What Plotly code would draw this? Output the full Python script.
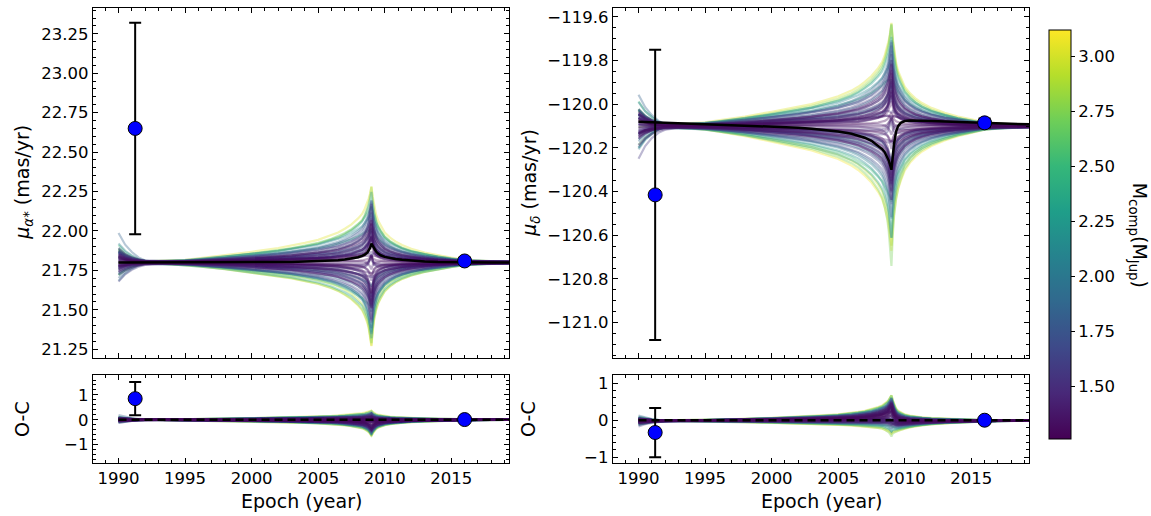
import numpy as np
import plotly.graph_objects as go
from plotly.colors import sample_colorscale

W, H = 1151, 516

# ---------------- data ----------------
epochs = [1990.0, 1990.5, 1991.0, 1991.5, 1992.0, 1993.0, 1994.0, 1995.0, 1996.0, 1998.0,
          2000.0, 2002.0, 2003.0, 2004.0, 2005.0, 2006.0, 2006.5, 2007.0, 2007.5, 2008.0,
          2008.3, 2008.5, 2008.7, 2008.8, 2008.9, 2009.0, 2009.1, 2009.2, 2009.35, 2009.5,
          2009.7, 2010.0, 2010.4, 2010.8, 2011.3, 2012.0, 2013.0, 2014.0, 2015.0, 2016.0,
          2017.0, 2018.0, 2019.35]

best_ra = [21.800, 21.800, 21.800, 21.800, 21.800, 21.800, 21.800, 21.800, 21.800, 21.801,
           21.802, 21.803, 21.804, 21.806, 21.808, 21.812, 21.815, 21.819, 21.825, 21.834,
           21.842, 21.850, 21.864, 21.875, 21.893, 21.920, 21.905, 21.888, 21.870, 21.857,
           21.846, 21.836, 21.828, 21.822, 21.817, 21.812, 21.807, 21.804, 21.802, 21.801,
           21.800, 21.800, 21.800]

best_dec = [-120.080, -120.081, -120.082, -120.083, -120.084, -120.086, -120.088, -120.090, -120.092, -120.096,
            -120.100, -120.107, -120.112, -120.118, -120.125, -120.135, -120.143, -120.153, -120.167, -120.190,
            -120.205, -120.220, -120.242, -120.258, -120.278, -120.300, -120.240, -120.180, -120.125, -120.100,
            -120.085, -120.077, -120.074, -120.074, -120.075, -120.077, -120.079, -120.081, -120.083, -120.085,
            -120.087, -120.089, -120.092]

# deviation profiles of the posterior sample curves
prof_main = [-0.10, -0.07, -0.05, -0.03, -0.02, -0.005, 0.0, 0.01, 0.03, 0.07,
             0.12, 0.17, 0.20, 0.24, 0.28, 0.34, 0.38, 0.43, 0.49, 0.57,
             0.63, 0.70, 0.78, 0.84, 0.91, 1.00, 0.86, 0.74, 0.62, 0.54,
             0.47, 0.38, 0.31, 0.26, 0.21, 0.16, 0.11, 0.07, 0.04, 0.01,
             0.0, -0.01, -0.02]
prof_sharp = [0, 0, 0, 0, 0, 0, 0, 0, 0, 0,
              0, 0, 0, 0, 0, 0, 0, 0.02, 0.04, 0.08,
              0.13, 0.20, 0.35, 0.50, 0.72, 1.00, 0.55, 0.33, 0.20, 0.13,
              0.08, 0.04, 0.02, 0, 0, 0, 0, 0, 0, 0,
              0, 0, 0]
prof_early = [1.0, 0.6, 0.35, 0.18, 0.08, 0.02, 0, 0, 0, 0,
              0, 0, 0, 0, 0, 0, 0, 0, 0, 0,
              0, 0, 0, 0, 0, 0, 0, 0, 0, 0,
              0, 0, 0, 0, 0, 0, 0, 0, 0, 0,
              0, 0, 0]

base_ra = 21.80
base_dec = -120.10

sample_mass = [1.29, 1.31, 1.33, 1.34, 1.36, 1.37, 1.38, 1.39, 1.40, 1.41, 1.42, 1.43,
               1.44, 1.45, 1.46, 1.47, 1.48, 1.50, 1.51, 1.53, 1.54, 1.56, 1.58, 1.60,
               1.62, 1.64, 1.67, 1.70, 1.73, 1.76, 1.80, 1.84, 1.88, 1.93, 1.98, 2.04,
               2.10, 2.17, 2.25, 2.33, 2.42, 2.52, 2.62, 2.72, 2.83, 2.94, 3.03, 3.10,
               1.28, 1.30, 1.32, 1.35, 1.36, 1.38, 1.40, 1.41, 1.43, 1.44, 1.46, 1.48,
               1.49, 1.52, 1.55, 1.57, 1.61, 1.66, 1.72, 1.78, 1.86, 1.95, 2.06, 2.20]

ra_main_amp = [0.06, -0.11, 0.19, -0.04, 0.15, -0.22, 0.09, -0.17, 0.24, -0.08, 0.12, -0.25,
               0.02, -0.14, 0.21, -0.10, 0.17, -0.19, 0.07, -0.23, 0.26, -0.05, 0.13, -0.20,
               0.25, -0.27, 0.17, -0.30, 0.31, -0.19, 0.27, -0.33, 0.34, -0.24, 0.21, -0.35,
               0.36, -0.31, 0.39, -0.41, 0.29, -0.37, 0.43, -0.44, 0.40, -0.38, 0.47, -0.45,
               0.01, -0.03, 0.04, -0.02, 0.07, -0.06, 0.03, -0.09, 0.11, -0.01, 0.05, -0.13,
               0.08, -0.04, 0.10, -0.07, 0.14, -0.12, 0.09, -0.15, 0.12, -0.10, 0.16, -0.18]
ra_sharp_amp = [0.10, -0.08, 0.05, -0.15, 0.12, -0.06, 0.15, -0.10, 0.03, -0.17, 0.08, -0.12,
                0.17, -0.12, 0.16, -0.14, 0.04, -0.09, 0.14, -0.06, 0.02, -0.16, 0.11, -0.07,
                0.06, -0.10, 0.12, -0.05, 0.08, -0.12, 0.10, -0.08, 0.05, -0.06, 0.14, -0.10,
                -0.06, -0.16, 0.05, -0.02, -0.10, 0.10, -0.08, -0.06, 0.07, -0.14, 0.00, -0.07,
                0.03, -0.05, 0.08, 0.06, -0.04, 0.10, -0.07, 0.02, 0.05, -0.10, 0.12, 0.04,
                -0.02, 0.09, -0.06, 0.13, 0.01, -0.03, 0.07, -0.08, 0.04, -0.11, 0.06, 0.03]
ra_early_amp = [0.02, -0.03, 0.05, -0.06, 0.01, 0.04, -0.02, 0.03, -0.05, 0.06, -0.01, 0.02,
                -0.04, 0.03, 0.00, -0.02, 0.05, -0.03, 0.02, -0.06, 0.03, -0.12, 0.01, 0.04,
                0.08, -0.06, 0.10, -0.04, 0.12, 0.05, -0.08, 0.16, -0.03, 0.06, -0.10, 0.09,
                0.06, -0.05, 0.10, 0.03, -0.06, 0.08, -0.04, 0.05, 0.12, -0.03, 0.07, 0.04,
                0.01, -0.02, 0.03, 0.00, -0.04, 0.02, 0.05, -0.03, 0.01, 0.04, -0.05, 0.02,
                -0.01, 0.03, -0.02, 0.06, -0.04, 0.02, 0.07, -0.05, 0.03, 0.08, -0.06, 0.05]
ra_offset = [0.005, -0.004, 0.008, -0.006, 0.002, -0.008, 0.004, 0.000, -0.003, 0.006, -0.005, 0.003,
             0.007, -0.002, 0.001, -0.007, 0.004, -0.004, 0.006, -0.001, 0.002, -0.006, 0.008, -0.003,
             0.010, -0.010, 0.006, -0.008, 0.004, -0.003, 0.009, -0.006, 0.002, -0.009, 0.005, -0.004,
             0.012, -0.010, 0.008, -0.012, 0.010, -0.006, 0.004, -0.011, 0.009, -0.007, 0.012, -0.010,
             0.003, -0.002, 0.001, -0.004, 0.005, 0.000, -0.003, 0.002, 0.004, -0.005, 0.001, -0.001,
             0.006, -0.003, 0.002, -0.006, 0.003, -0.002, 0.005, -0.004, 0.001, -0.007, 0.004, 0.002]

dec_main_amp = [0.08, -0.12, 0.18, -0.06, 0.14, -0.21, 0.10, -0.16, 0.23, -0.09, 0.12, -0.24,
                0.03, -0.15, 0.20, -0.11, 0.16, -0.18, 0.06, -0.22, 0.25, -0.07, 0.13, -0.19,
                0.26, -0.25, 0.18, -0.29, 0.30, -0.20, 0.27, -0.31, 0.33, -0.23, 0.22, -0.34,
                0.34, -0.36, 0.38, -0.42, 0.30, -0.40, 0.40, -0.47, 0.42, -0.44, 0.44, -0.50,
                0.02, -0.04, 0.05, -0.01, 0.08, -0.05, 0.02, -0.10, 0.10, -0.02, 0.06, -0.12,
                0.07, -0.03, 0.11, -0.08, 0.13, -0.11, 0.08, -0.14, 0.13, -0.09, 0.15, -0.17]
dec_sharp_amp = [0.08, -0.06, 0.07, -0.12, 0.10, -0.08, 0.14, -0.09, 0.06, -0.14, 0.09, -0.10,
                 0.16, -0.11, 0.10, -0.12, 0.05, -0.08, 0.12, -0.05, 0.03, -0.13, 0.09, -0.06,
                 0.06, -0.08, 0.10, -0.06, 0.08, -0.10, 0.09, -0.10, 0.06, -0.05, 0.12, -0.08,
                 -0.05, -0.14, 0.02, -0.08, -0.10, 0.06, 0.06, -0.16, 0.04, -0.10, 0.02, -0.06,
                 0.04, -0.03, 0.06, 0.05, -0.05, 0.09, -0.06, 0.03, 0.04, -0.09, 0.10, 0.05,
                 -0.03, 0.08, -0.05, 0.11, 0.02, -0.04, 0.06, -0.07, 0.05, -0.10, 0.05, 0.02]
dec_early_amp = [0.03, -0.04, 0.06, -0.05, 0.02, 0.05, -0.03, 0.02, -0.06, 0.05, -0.02, 0.03,
                 -0.04, 0.04, 0.00, -0.03, 0.05, -0.02, 0.03, -0.08, 0.02, -0.15, 0.01, 0.04,
                 0.07, -0.06, 0.09, -0.05, 0.10, 0.04, -0.08, 0.12, -0.04, 0.06, -0.09, 0.08,
                 0.06, -0.06, 0.10, 0.02, -0.08, 0.08, -0.05, 0.04, 0.11, -0.04, 0.06, 0.03,
                 0.02, -0.03, 0.02, 0.01, -0.05, 0.03, 0.04, -0.02, 0.02, 0.03, -0.04, 0.01,
                 -0.02, 0.04, -0.01, 0.05, -0.03, 0.03, 0.06, -0.04, 0.02, 0.07, -0.05, 0.04]
dec_offset = [0.004, -0.006, 0.007, -0.003, 0.001, -0.008, 0.005, -0.001, -0.004, 0.006, -0.005, 0.002,
              0.008, -0.002, 0.003, -0.007, 0.004, -0.005, 0.006, -0.002, 0.001, -0.006, 0.007, -0.004,
              0.010, -0.009, 0.005, -0.008, 0.004, -0.004, 0.009, -0.007, 0.003, -0.010, 0.006, -0.004,
              0.012, -0.011, 0.009, -0.012, 0.010, -0.007, 0.005, -0.010, 0.008, -0.008, 0.013, -0.011,
              0.002, -0.003, 0.004, -0.001, 0.003, -0.004, 0.001, 0.002, -0.002, 0.005, -0.003, 0.000,
              0.004, -0.005, 0.002, -0.002, 0.006, -0.004, 0.001, -0.006, 0.003, -0.001, 0.005, -0.003]

obs_epoch = [1991.25, 2016.0]
obs_ra = [22.65, 21.81]
obs_ra_err = [0.67, 0.02]
obs_dec = [-120.415, -120.085]
obs_dec_err = [0.665, 0.02]

cmin, cmax = 1.26, 3.12
cbar_ticks = [1.50, 1.75, 2.00, 2.25, 2.50, 2.75, 3.00]

# ---------------- layout geometry (pixels) ----------------
def px_x(v):
    return v / W

def px_y(v):
    return 1 - v / H

left_dom = [px_x(92.7), px_x(509.2)]
right_dom = [px_x(612.7), px_x(1029.2)]
main_dom = [px_y(360), px_y(7.3)]
res_dom = [px_y(466.3), px_y(377.7)]
xrange_ = [1988.06, 2019.35]

FONT = "DejaVu Sans"
TICK = 16.5
TITLE = 19

fig = go.Figure()

ep = np.array(epochs)
pm = np.array(prof_main)
ps = np.array(prof_sharp)
pe = np.array(prof_early)
order = np.argsort(sample_mass, kind="stable")[::-1]


def color_of(m):
    return sample_colorscale("Viridis", [(m - cmin) / (cmax - cmin)])[0]


def add_panel(xa, ya, xr, yr, base, best, mamp, samp, eamp, offs, obs, err):
    best = np.array(best)
    for i in order:
        curve = base + offs[i] + mamp[i] * pm + samp[i] * ps + eamp[i] * pe
        col = color_of(sample_mass[i])
        fig.add_trace(go.Scatter(x=ep, y=curve, mode="lines", xaxis=xa, yaxis=ya,
                                 line=dict(color=col, width=2.2), opacity=0.35,
                                 showlegend=False, hoverinfo="skip"))
        fig.add_trace(go.Scatter(x=ep, y=curve - best, mode="lines", xaxis=xr, yaxis=yr,
                                 line=dict(color=col, width=2.2), opacity=0.35,
                                 showlegend=False, hoverinfo="skip"))
    fig.add_trace(go.Scatter(x=ep, y=best, mode="lines", xaxis=xa, yaxis=ya,
                             line=dict(color="black", width=2.5), showlegend=False))
    fig.add_trace(go.Scatter(x=[ep[0], xrange_[1]], y=[0, 0], mode="lines", xaxis=xr, yaxis=yr,
                             line=dict(color="black", width=2.5, dash="8px,5px"), showlegend=False))
    mk = dict(color="#0000ff", size=14, line=dict(color="black", width=1))
    eb = dict(type="data", array=err, color="black", thickness=2, width=6)
    fig.add_trace(go.Scatter(x=obs_epoch, y=obs, mode="markers", xaxis=xa, yaxis=ya,
                             marker=mk, error_y=eb, showlegend=False))
    res = np.array(obs) - np.interp(obs_epoch, ep, best)
    fig.add_trace(go.Scatter(x=obs_epoch, y=res, mode="markers", xaxis=xr, yaxis=yr,
                             marker=mk, error_y=eb, showlegend=False))


add_panel("x", "y", "x2", "y2", base_ra, best_ra, ra_main_amp, ra_sharp_amp,
          ra_early_amp, ra_offset, obs_ra, obs_ra_err)
add_panel("x3", "y3", "x4", "y4", base_dec, best_dec, dec_main_amp, dec_sharp_amp,
          dec_early_amp, dec_offset, obs_dec, obs_dec_err)

# colorbar carrier
fig.add_trace(go.Scatter(
    x=[2000, 2000], y=[21.8, 21.8], mode="markers", xaxis="x", yaxis="y",
    marker=dict(size=1, opacity=0, color=[cmin, cmax], cmin=cmin, cmax=cmax,
                colorscale="Viridis", showscale=True,
                colorbar=dict(x=px_x(1049), xanchor="left", xpad=0, ypad=0,
                              y=px_y(236), yanchor="middle", len=413.4 / H, lenmode="fraction",
                              thickness=21.7, thicknessmode="pixels",
                              outlinecolor="black", outlinewidth=1,
                              ticks="outside", ticklen=4, tickwidth=1, tickcolor="black",
                              tickvals=cbar_ticks, ticktext=[f"{t:.2f}" for t in cbar_ticks],
                              tickfont=dict(family=FONT, size=TICK, color="black"))),
    showlegend=False, hoverinfo="skip"))

common = dict(showline=True, linecolor="black", linewidth=1, mirror="allticks",
              ticks="inside", ticklen=5, tickwidth=1, tickcolor="black",
              showgrid=False, zeroline=False,
              tickfont=dict(family=FONT, size=TICK, color="black"))


def xax(dom, anchor, labels):
    return dict(common, domain=dom, anchor=anchor, range=xrange_, tick0=1990, dtick=5,
                showticklabels=labels,
                minor=dict(ticks="inside", ticklen=3, tickcolor="black", dtick=1, tick0=1990))


def yax(dom, anchor, rng, dtick, mdtick, fmt):
    return dict(common, domain=dom, anchor=anchor, range=rng, tick0=0, dtick=dtick,
                tickformat=fmt,
                minor=dict(ticks="inside", ticklen=3, tickcolor="black", dtick=mdtick, tick0=0))


fig.update_layout(
    width=W, height=H, margin=dict(l=0, r=0, t=0, b=0),
    paper_bgcolor="white", plot_bgcolor="white",
    font=dict(family=FONT, color="black"),
    xaxis=xax(left_dom, "y", False),
    yaxis=yax(main_dom, "x", [21.198, 23.412], 0.25, 0.05, ".2f"),
    xaxis2=xax(left_dom, "y2", True),
    yaxis2=yax(res_dom, "x2", [-1.73, 1.80], 1, 0.2, "d"),
    xaxis3=xax(right_dom, "y3", False),
    yaxis3=yax(main_dom, "x3", [-121.16, -119.56], 0.2, 0.05, ".1f"),
    xaxis4=xax(right_dom, "y4", True),
    yaxis4=yax(res_dom, "x4", [-1.15, 1.22], 1, 0.2, "d"),
)

tfont = dict(family=FONT, size=TITLE, color="black")
annots = [
    (24, 183.5, "<i>μ</i><sub><i>α</i>*</sub> (mas/yr)", -90),
    (22, 422, "O-C", -90),
    (531, 183.5, "<i>μ</i><sub><i>δ</i></sub> (mas/yr)", -90),
    (528, 422, "O-C", -90),
    (301, 505, "Epoch (year)", 0),
    (821, 505, "Epoch (year)", 0),
    (1138, 236, "M<sub>comp</sub>(M<sub>Jup</sub>)", 90),
]
for ax_, ay_, txt, ang in annots:
    fig.add_annotation(x=px_x(ax_), y=px_y(ay_), xref="paper", yref="paper", text=txt,
                       showarrow=False, textangle=ang, font=tfont,
                       xanchor="center", yanchor="middle")

fig.write_html("out.html")
